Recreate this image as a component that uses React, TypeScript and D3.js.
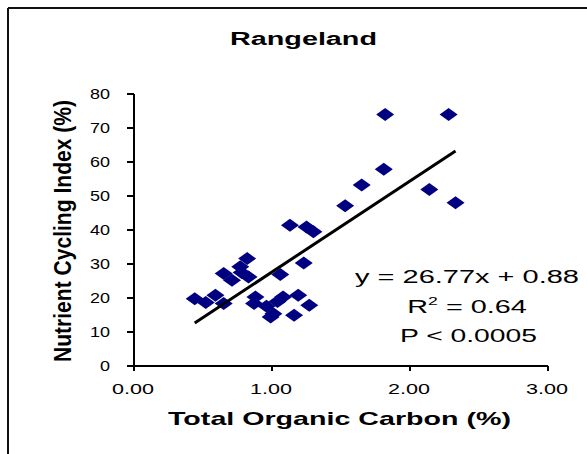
import React from "react";
import * as d3 from "d3";

const W = 587;
const H = 454;

const toc = [0.44, 0.52, 0.59, 0.65, 0.65, 0.71, 0.77, 0.82, 0.83, 0.78, 0.88, 0.87, 0.96, 1.01, 0.99, 1.04, 1.08, 1.19, 1.16, 1.27, 1.06, 1.13, 1.25, 1.30, 1.23, 1.53, 1.65, 1.81, 1.82, 2.28, 2.14, 2.33];
const nci = [19.8, 18.7, 20.8, 18.4, 27.2, 25.2, 29.2, 31.6, 26.2, 27.5, 20.3, 18.4, 17.6, 15.4, 14.4, 19.0, 20.3, 20.8, 14.9, 17.9, 26.9, 41.4, 40.9, 39.5, 30.3, 47.1, 53.2, 57.9, 74.0, 74.0, 51.9, 48.0];
const xTicks = [0, 1, 2, 3];
const xTickLabels = ["0.00", "1.00", "2.00", "3.00"];
const yTicks = [0, 10, 20, 30, 40, 50, 60, 70, 80];
const slope = 26.77;
const intercept = 0.88;

const FONT = "'Liberation Sans', Arial, sans-serif";

export default function App() {
  const x = d3.scaleLinear().domain([0, 3]).range([134, 548]);
  const y = d3.scaleLinear().domain([0, 80]).range([366, 94]);
  const xMin = d3.min(toc) as number;
  const xMax = d3.max(toc) as number;
  const line = d3.line<number>().x((d) => x(d)).y((d) => y(slope * d + intercept));
  const diamond = (cx: number, cy: number) =>
    `M${cx},${cy - 6.5}L${cx + 9},${cy}L${cx},${cy + 6.5}L${cx - 9},${cy}Z`;

  return (
    <svg width={W} height={H} style={{ position: "absolute", left: 0, top: 0, background: "#fff" }} fontFamily={FONT}>
      <rect x={0} y={0} width={W} height={H} fill="#fff" />
      {/* frame */}
      <line x1={8} y1={8} x2={W} y2={8} stroke="#111" strokeWidth={2} />
      <line x1={8} y1={8} x2={8} y2={H} stroke="#111" strokeWidth={2} />

      <text x={303.5} y={45} fontSize={18} fontWeight="bold" textAnchor="middle" textLength={147} lengthAdjust="spacingAndGlyphs">Rangeland</text>

      {/* axes */}
      <line x1={x(0)} y1={y(0)} x2={x(3)} y2={y(0)} stroke="#000" strokeWidth={2} />
      <line x1={x(0)} y1={y(0)} x2={x(0)} y2={y(80)} stroke="#000" strokeWidth={2} />
      {xTicks.map((t, i) => (
        <g key={"xt" + i}>
          <line x1={x(t)} x2={x(t)} y1={y(0)} y2={y(0) + 5} stroke="#000" strokeWidth={2} />
          <text x={x(t) - 1} y={394} fontSize={14} textAnchor="middle" textLength={42} lengthAdjust="spacingAndGlyphs">{xTickLabels[i]}</text>
        </g>
      ))}
      {yTicks.map((t) => (
        <g key={"yt" + t}>
          <line x1={x(0) - 7} x2={x(0)} y1={y(t)} y2={y(t)} stroke="#000" strokeWidth={2} />
          <text x={110} y={y(t) + 5} fontSize={14.5} textAnchor="end" textLength={String(t).length * 10} lengthAdjust="spacingAndGlyphs">{t}</text>
        </g>
      ))}

      <text x={339.5} y={425} fontSize={18.5} fontWeight="bold" textAnchor="middle" textLength={343} lengthAdjust="spacingAndGlyphs">Total Organic Carbon (%)</text>
      <g transform="translate(71,231) scale(1.1,1)">
        <text transform="rotate(-90)" fontSize={21} fontWeight="bold" textAnchor="middle" textLength={262} lengthAdjust="spacingAndGlyphs">Nutrient Cycling Index (%)</text>
      </g>

      {/* points */}
      {toc.map((v, i) => (
        <path key={"p" + i} d={diamond(x(v), y(nci[i]))} fill="#000080" />
      ))}

      {/* regression */}
      <path d={line([xMin, xMax]) || ""} stroke="#000" strokeWidth={3} fill="none" />

      {/* equation */}
      <text x={467} y={283} fontSize={18} textAnchor="middle" textLength={224} lengthAdjust="spacingAndGlyphs">y = 26.77x + 0.88</text>
      <g transform="translate(467,313) scale(1.6,1)">
        <text x={0} y={0} fontSize={18} textAnchor="middle">
          R<tspan fontSize={11} dy={-8}>2</tspan><tspan dy={8}> = 0.64</tspan>
        </text>
      </g>
      <text x={468.5} y={342} fontSize={18} textAnchor="middle" textLength={137} lengthAdjust="spacingAndGlyphs">P &lt; 0.0005</text>
    </svg>
  );
}
